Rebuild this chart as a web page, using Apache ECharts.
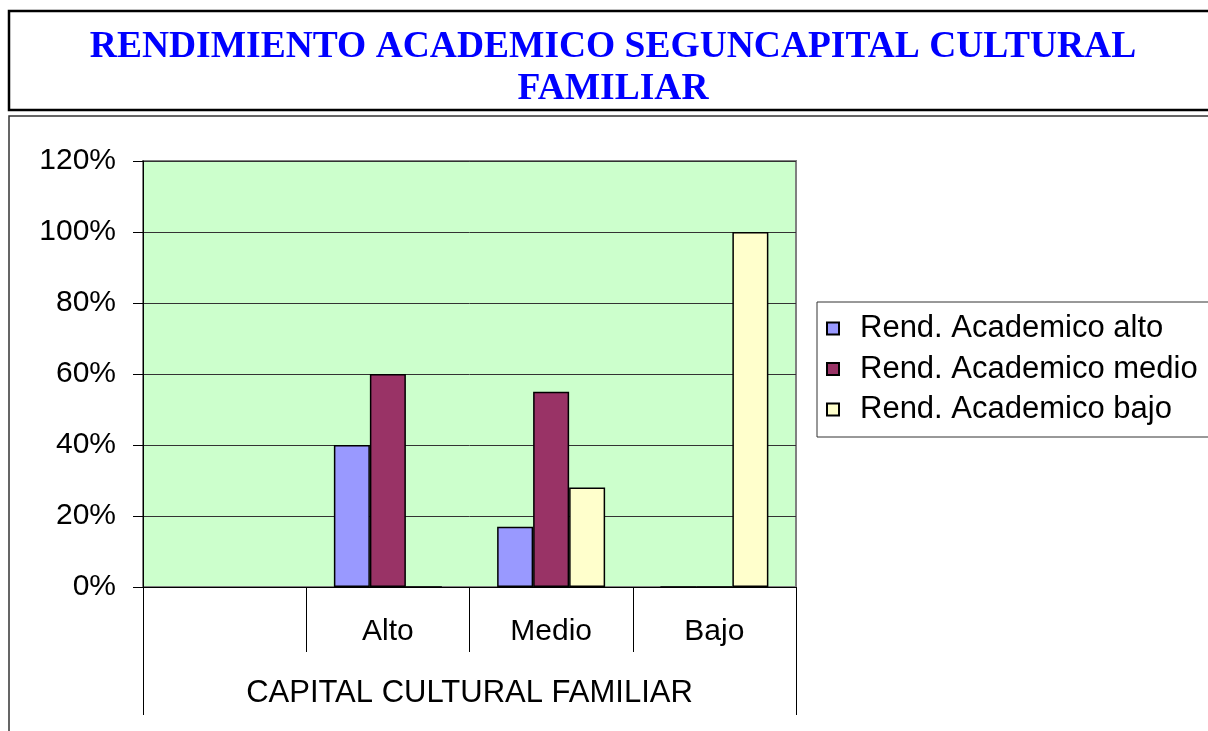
<!DOCTYPE html>
<html>
<head>
<meta charset="utf-8">
<script src="https://cdn.jsdelivr.net/npm/echarts@6/dist/echarts.min.js"></script>
<style>
html,body{margin:0;padding:0;background:#fff;}
#chart{width:1208px;height:731px;}
</style>
</head>
<body>
<div id="chart"></div>
<script>
const titleText = 'RENDIMIENTO ACADEMICO SEGUNCAPITAL CULTURAL\nFAMILIAR';
const categories = ['', 'Alto', 'Medio', 'Bajo'];
const groupLabel = ['CAPITAL CULTURAL FAMILIAR'];
const seriesNames = ['Rend. Academico alto', 'Rend. Academico medio', 'Rend. Academico bajo'];
const rendAlto = [null, 40, 17, 0];
const rendMedio = [null, 60, 55, 0];
const rendBajo = [null, 0, 28, 100];
const seriesColors = ['#9999FF', '#993366', '#FFFFCC'];
const yMin = 0, yMax = 120, yStep = 20;

const values = [rendAlto, rendMedio, rendBajo];
const chart = echarts.init(document.getElementById('chart'), null, {renderer: 'canvas'});
const sans = 'Liberation Sans, Arial, sans-serif';

chart.setOption({
  animation: false,
  backgroundColor: '#ffffff',
  graphic: [
    {type: 'rect', z: -10, shape: {x: 9, y: 11, width: 1215, height: 99},
     style: {fill: '#fff', stroke: '#000', lineWidth: 2.5}},
    {type: 'rect', z: -10, shape: {x: 9, y: 116, width: 1215, height: 640},
     style: {fill: '#fff', stroke: '#333', lineWidth: 1.5}}
  ],
  title: {
    text: titleText,
    left: 613,
    textAlign: 'center',
    top: 26,
    padding: 0,
    textStyle: {
      color: '#0000FF',
      fontFamily: 'Liberation Serif, Times New Roman, serif',
      fontWeight: 'bold',
      fontSize: 37.5,
      lineHeight: 42
    }
  },
  legend: {
    orient: 'vertical',
    left: 817,
    top: 302,
    backgroundColor: '#fff',
    borderColor: '#333',
    borderWidth: 1,
    padding: [11, 20, 12, 9],
    itemWidth: 12,
    itemHeight: 12,
    itemGap: 9.5,
    icon: 'rect',
    textStyle: {fontFamily: sans, fontSize: 31, lineHeight: 31, color: '#000', padding: [0, 0, 0, 16]},
    data: seriesNames
  },
  grid: {
    left: 143, right: 412, top: 161, bottom: 144,
    show: true,
    backgroundColor: '#CCFFCC',
    borderColor: '#808080',
    borderWidth: 2
  },
  xAxis: [
    {
      type: 'category',
      data: categories,
      position: 'bottom',
      boundaryGap: true,
      axisLine: {show: true, lineStyle: {color: '#000', width: 1}},
      axisTick: {show: true, length: 65, interval: 0, lineStyle: {color: '#000', width: 1}},
      axisLabel: {interval: 0, margin: 30, fontFamily: sans, fontSize: 30, color: '#000'},
      splitLine: {show: false}
    },
    {
      type: 'category',
      data: groupLabel,
      position: 'bottom',
      boundaryGap: true,
      axisLine: {show: false},
      axisTick: {show: true, length: 128, interval: 0, lineStyle: {color: '#000', width: 1}},
      axisLabel: {interval: 0, margin: 91, fontFamily: sans, fontSize: 31, color: '#000'},
      splitLine: {show: false}
    }
  ],
  yAxis: {
    type: 'value',
    min: yMin, max: yMax, interval: yStep,
    axisLine: {show: true, lineStyle: {color: '#000', width: 1}},
    axisTick: {show: true, length: 10, lineStyle: {color: '#000', width: 1}},
    axisLabel: {formatter: '{value}%', margin: 27, fontFamily: sans, fontSize: 30, color: '#000'},
    splitLine: {show: true, lineStyle: {color: '#333', width: 1}}
  },
  series: seriesNames.map((name, i) => ({
    name: name,
    type: 'bar',
    xAxisIndex: 0,
    data: values[i],
    barWidth: 36,
    barGap: '0%',
    itemStyle: {color: seriesColors[i], borderColor: '#000', borderWidth: 1.5}
  }))
});
</script>
</body>
</html>
